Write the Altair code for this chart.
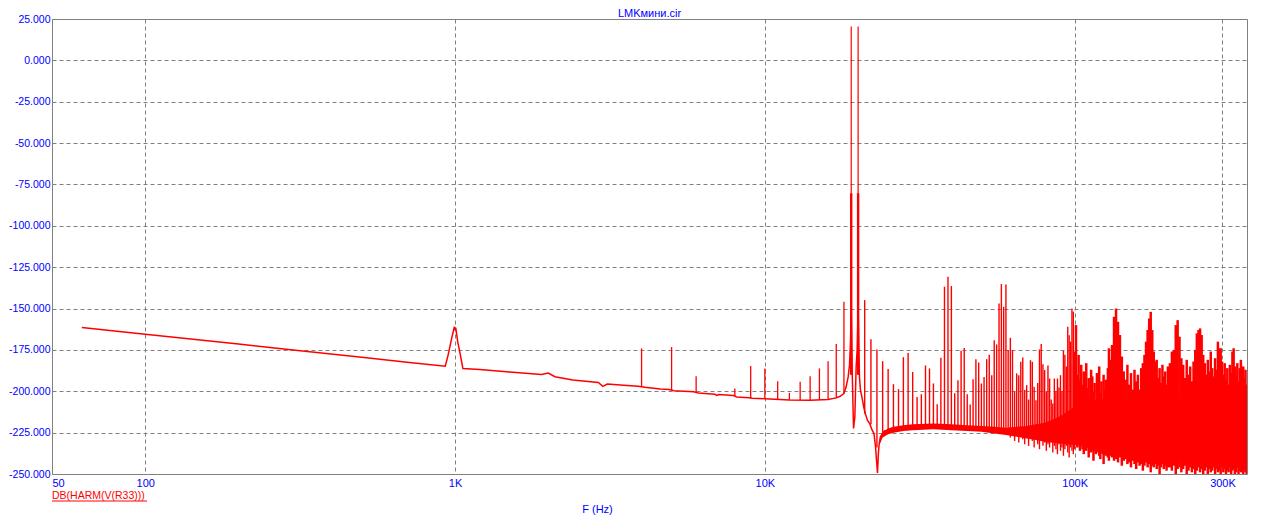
import altair as alt
import pandas as pd

# ---------------- data ----------------
# main trace (Hz, dB)
trace_hz = [62.4, 100, 200, 300, 500, 700, 930, 950, 975, 995,
            1000, 1005, 1020, 1045, 1060, 1200, 1500, 1900, 2000, 2100,
            2400, 2900, 3000, 3100, 3500, 3900, 4100, 4600, 4900, 5100,
            5900, 6100, 6900, 7000, 7100, 7900, 8000, 8100, 8900, 9100,
            10000, 12000, 14000, 16000, 17000, 17500, 17980, 18300, 18575, 18760,
            18900, 19000, 19150, 19330, 19520, 19710, 19860, 20000, 20200, 20350,
            20600, 20850, 21100, 21450, 21800, 22200, 22500, 22770, 22930, 23100,
            23250, 23400, 23600, 24000, 24500]
trace_db = [-161.4, -165.5, -171.5, -175.0, -179.5, -182.4, -184.8, -178.0, -168.0, -161.0,
            -163.0, -161.5, -170.0, -180.0, -186.3, -186.8, -188.3, -189.8, -189.0, -191.2,
            -193.2, -194.7, -197.0, -195.6, -196.3, -196.9, -197.6, -198.6, -199.0, -199.7,
            -200.3, -201.0, -201.8, -202.5, -202.0, -202.6, -202.8, -203.4, -203.9, -204.2,
            -204.5, -205.2, -205.4, -205.0, -204.0, -203.0, -201.4, -197.3, -191.3, -184.2,
            -170.0, -150.0, -190.0, -222.5, -215.5, -185.2, -175.0, -150.0, -191.3, -199.3,
            -204.0, -209.5, -213.5, -217.6, -219.6, -223.5, -225.5, -233.7, -241.8, -249.4,
            -237.5, -231.6, -227.6, -225.5, -223.5]

# low harmonics (kHz)
low_khz = [4, 5, 6, 8, 9, 10, 11, 12, 13, 14, 15, 16, 17, 18]
low_lo = [-197.2, -199.3, -200.6, -203.0, -204.0, -204.5, -204.8, -205.2, -205.3, -205.4,
          -205.2, -205.0, -204.0, -201.4]
low_hi = [-174.1, -173.3, -190.9, -198.3, -184.8, -186.2, -193.9, -201.0, -194.3, -190.9,
          -186.2, -181.8, -171.5, -145.9]

# the two test tones (kHz)
tone_khz = [19, 20]
tone_lo = [-190.0, -190.0]
tone_mid = [-80.3, -80.3]
tone_hi = [20.5, 20.5]

# harmonics 21..100 kHz
mid_khz = [21, 22, 23, 24, 25, 26, 27, 28, 29, 30,
           31, 32, 33, 34, 35, 36, 37, 38, 39, 40,
           41, 42, 43, 44, 45, 46, 47, 48, 49, 50,
           51, 52, 53, 54, 55, 56, 57, 58, 59, 60,
           61, 62, 63, 64, 65, 66, 67, 68, 69, 70,
           71, 72, 73, 74, 75, 76, 77, 78, 79, 80,
           81, 82, 83, 84, 85, 86, 87, 88, 89, 90,
           91, 92, 93, 94, 95, 96, 97, 98, 99, 100]
mid_hi = [-144.9, -168.5, -174.7, -181.8, -186.6, -195.7, -198.7, -179.4, -176.9, -188.3,
          -203.4, -201.8, -184.4, -186.2, -195.3, -207.8, -179.8, -136.8, -130.8, -136.4,
          -201.2, -193.3, -175.5, -173.9, -201.8, -208.0, -192.7, -180.6, -182.6, -195.3,
          -191.3, -180.6, -178.0, -190.3, -169.1, -171.7, -146.9, -135.2, -148.9, -135.4,
          -175.1, -167.7, -175.1, -200.0, -189.2, -190.3, -182.2, -179.6, -199.3, -196.3,
          -205.0, -181.2, -182.2, -197.3, -205.4, -195.0, -174.7, -171.5, -183.6, -187.2,
          -200.0, -184.4, -192.3, -205.0, -207.4, -192.3, -200.0, -192.3, -197.7, -190.3,
          -200.0, -175.5, -178.0, -185.0, -161.0, -166.1, -170.0, -149.9, -151.9, -176.0]
mid_lo = [-213.5, -220.0, -234.0, -226.0, -223.0, -222.0, -221.5, -221.5, -221.0, -221.0,
          -221.0, -221.0, -220.5, -220.5, -220.5, -220.5, -220.5, -220.5, -220.5, -221.0,
          -221.0, -221.0, -221.0, -221.5, -221.5, -221.5, -222.0, -222.0, -222.0, -222.0,
          -222.5, -222.5, -222.5, -223.0, -223.0, -223.0, -223.5, -223.5, -224.0, -224.0,
          -226.0, -228.0, -225.0, -230.0, -227.0, -231.0, -226.0, -229.0, -232.0, -227.0,
          -233.0, -228.0, -230.0, -234.0, -229.0, -232.0, -235.0, -230.0, -233.0, -231.0,
          -236.0, -232.0, -234.0, -231.0, -237.0, -233.0, -235.0, -238.0, -232.0, -236.0,
          -234.0, -239.0, -235.0, -233.0, -237.0, -240.0, -234.0, -236.0, -238.0, -235.0]

# noise floor band (kHz)
band_khz = [23.5, 24, 25, 26, 28, 30, 35, 40, 45, 50,
            55, 60, 65, 70, 75, 80, 85, 90, 95, 100,
            110, 130, 160, 200, 250, 300, 360]
band_hi = [-228.0, -224.5, -222.5, -221.5, -220.5, -220.0, -219.5, -220.0, -220.5, -221.0,
           -221.5, -222.0, -221.5, -221.0, -220.0, -219.0, -217.0, -215.0, -212.0, -209.0,
           -206.0, -205.0, -204.0, -204.0, -205.0, -205.0, -206.0]
band_lo = [-232.0, -228.0, -226.0, -225.0, -224.0, -223.5, -223.0, -223.5, -224.0, -224.5,
           -225.5, -226.5, -227.5, -228.5, -229.5, -230.5, -231.0, -231.5, -232.0, -232.5,
           -234.0, -237.0, -240.0, -242.0, -243.0, -244.0, -244.0]

# dense part above 100 kHz
dense_khz = [101, 102, 103, 104, 105, 106, 107, 108, 109, 110,
             111, 112, 113, 114, 115, 116, 117, 118, 119, 120,
             121, 122, 123, 124, 125, 126, 127, 128, 129, 130,
             132, 134, 136, 138, 140, 142, 144, 146, 148, 150,
             152, 154, 156, 158, 160, 162, 164, 166, 168, 170,
             172, 174, 176, 178, 180, 182, 184, 186, 188, 190,
             192, 194, 196, 198, 200,
             203, 206, 209, 212, 215, 218, 221, 224, 227, 230,
             233, 236, 239, 242, 245, 248, 251, 254, 257, 260,
             263, 266, 269, 272, 275, 278, 281, 284, 287, 290,
             293, 296, 299, 302, 305, 308, 311, 314, 317, 320,
             323, 326, 329, 332, 335, 338, 341, 344, 347, 350,
             353, 356, 359]
dense_hi = [-160, -190, -178, -193, -184, -196, -188, -201, -183, -198,
            -192, -204, -187, -191, -200, -195, -206, -189, -197, -185,
            -201, -194, -205, -190, -199, -193, -203, -186, -174, -181,
            -172, -155, -150, -158, -166, -179, -188, -193, -184, -196,
            -189, -199, -187, -194, -190, -199, -186, -183, -178, -170,
            -163, -156, -152, -163, -176, -182, -181, -192, -186, -195,
            -184, -191, -188, -196, -185,
            -183, -176, -175, -160, -157, -167, -180, -184, -192, -181,
            -190, -185, -194, -182, -175, -165, -163, -162, -166, -178,
            -183, -190, -181, -188, -176, -186, -191, -180, -187, -170,
            -174, -174, -182, -190, -183, -193, -186, -196, -184, -189,
            -176, -174, -185, -191, -183, -194, -186, -181, -190, -185,
            -192, -187, -196]
dense_lo = [-232, -234, -231, -236, -233, -235, -238, -233, -236, -234,
            -240, -235, -237, -236, -242, -236, -238, -237, -235, -239,
            -241, -237, -238, -244, -238, -239, -237, -240, -242, -239,
            -240, -242, -241, -243, -240, -245, -242, -241, -244, -243,
            -246, -242, -244, -247, -243, -245, -244, -248, -245, -243,
            -246, -244, -249, -245, -246, -244, -247, -245, -250, -246,
            -244, -247, -245, -248, -246,
            -246, -248, -245, -250, -247, -246, -249, -247, -245, -250,
            -248, -246, -249, -247, -250, -248, -246, -249, -247, -250,
            -248, -246, -250, -247, -249, -248, -246, -250, -247, -249,
            -248, -250, -246, -249, -247, -250, -248, -249, -246, -250,
            -248, -247, -250, -249, -246, -250, -248, -249, -247, -250,
            -248, -249, -250]

x_tick_values = [50, 100, 1000, 10000, 100000, 300000]
x_tick_labels = ["50", "100", "1K", "10K", "100K", "300K"]
y_tick_values = [25, 0, -25, -50, -75, -100, -125, -150, -175, -200, -225, -250]
x_domain = [50, 360000]
y_domain = [-250, 25]

title_text = "LMKмини.cir"
x_title = "F (Hz)"
legend_text = "DB(HARM(V(R33)))"

# ---------------- styling ----------------
BLUE = "#0000FF"
RED = "#FF0000"
GREY = "#808080"
FONT = "Liberation Sans"

# ---------------- frames ----------------
k = 1000.0
trace_df = pd.DataFrame({"f": trace_hz, "hi": trace_db})
low_df = pd.DataFrame({"f": [v * k for v in low_khz], "lo": low_lo, "hi": low_hi})
tone_thin_df = pd.DataFrame({"f": [v * k for v in tone_khz], "lo": tone_lo, "hi": tone_hi})
tone_thick_df = pd.DataFrame({"f": [v * k for v in tone_khz], "lo": tone_lo, "hi": tone_mid})
mid_df = pd.DataFrame({"f": [v * k for v in mid_khz], "lo": mid_lo, "hi": mid_hi})
band_df = pd.DataFrame({"f": [v * k for v in band_khz], "lo": band_lo, "hi": band_hi})
dense_df = pd.DataFrame({"f": [v * k for v in dense_khz], "lo": dense_lo, "hi": dense_hi})

expr = "''"
for v, t in zip(x_tick_values, x_tick_labels):
    expr = f"(abs(datum.value - {v}) < {v} * 0.001 ? '{t}' : {expr})"

x_scale = alt.Scale(type="log", domain=x_domain, nice=False)
y_scale = alt.Scale(domain=y_domain, nice=False, zero=False)

x_axis = alt.Axis(
    values=x_tick_values, labelExpr=expr, grid=True, gridColor=GREY,
    gridDash=[4, 3], gridWidth=1, gridOpacity=1, ticks=False, domain=False,
    labelColor=BLUE, labelFont=FONT, labelFontSize=11, labelPadding=3,
    labelFlush=True, labelOverlap=False,
    title=x_title, titleColor=BLUE, titleFont=FONT, titleFontSize=11,
    titleFontWeight="normal", titleX=545, titleY=35, titleAlign="center",
    titleBaseline="middle",
)
y_axis = alt.Axis(
    values=y_tick_values,
    labelExpr="(datum.value < 0 ? '-' : '') + format(abs(datum.value), '.3f')",
    grid=True, gridColor=GREY, gridDash=[4, 3], gridWidth=1, gridOpacity=1,
    ticks=False, domain=False, labelColor=BLUE, labelFont=FONT,
    labelFontSize=10.5, labelPadding=2, labelFlush=False, labelOverlap=False,
    title=None,
)

X = alt.X("f:Q", scale=x_scale, axis=x_axis)
Y = alt.Y("hi:Q", scale=y_scale, axis=y_axis)

band = alt.Chart(band_df).mark_area(color=RED, clip=True, opacity=1).encode(
    x=X, y=Y, y2="lo:Q")
trace = alt.Chart(trace_df).mark_line(color=RED, strokeWidth=1.5, clip=True).encode(
    x=X, y=Y)
low = alt.Chart(low_df).mark_rule(color=RED, strokeWidth=1.3, clip=True).encode(
    x=X, y=Y, y2="lo:Q")
tone_thin = alt.Chart(tone_thin_df).mark_rule(color=RED, strokeWidth=1.2, clip=True).encode(
    x=X, y=Y, y2="lo:Q")
tone_thick = alt.Chart(tone_thick_df).mark_rule(color=RED, strokeWidth=2.4, clip=True).encode(
    x=X, y=Y, y2="lo:Q")
mid = alt.Chart(mid_df).mark_rule(color=RED, strokeWidth=1.4, clip=True).encode(
    x=X, y=Y, y2="lo:Q")
dense = alt.Chart(dense_df).mark_rule(color=RED, strokeWidth=2.5, clip=True).encode(
    x=X, y=Y, y2="lo:Q")

one = pd.DataFrame({"t": [legend_text], "h": [title_text]})
legend_lbl = alt.Chart(one).mark_text(
    color=RED, font=FONT, fontSize=10.5, align="left", baseline="alphabetic"
).encode(x=alt.value(0), y=alt.value(480), text="t:N")
legend_line = alt.Chart(one).mark_rule(color=RED, strokeWidth=1).encode(
    x=alt.value(0), x2=alt.value(95), y=alt.value(482))
title_lbl = alt.Chart(one).mark_text(
    color=BLUE, font=FONT, fontSize=11, align="center", baseline="alphabetic"
).encode(x=alt.value(597.5), y=alt.value(-2), text="h:N")

chart = alt.layer(
    band, trace, low, mid, dense, tone_thick, tone_thin,
    legend_lbl, legend_line, title_lbl
).properties(
    width=1195, height=455,
    autosize=alt.AutoSizeParams(type="none"),
    padding={"left": 44, "top": 11, "right": 21, "bottom": 45},
    background="white",
).configure_view(stroke=GREY, strokeWidth=1)

chart.save("out.html", embed_options={"renderer": "svg", "actions": False})
